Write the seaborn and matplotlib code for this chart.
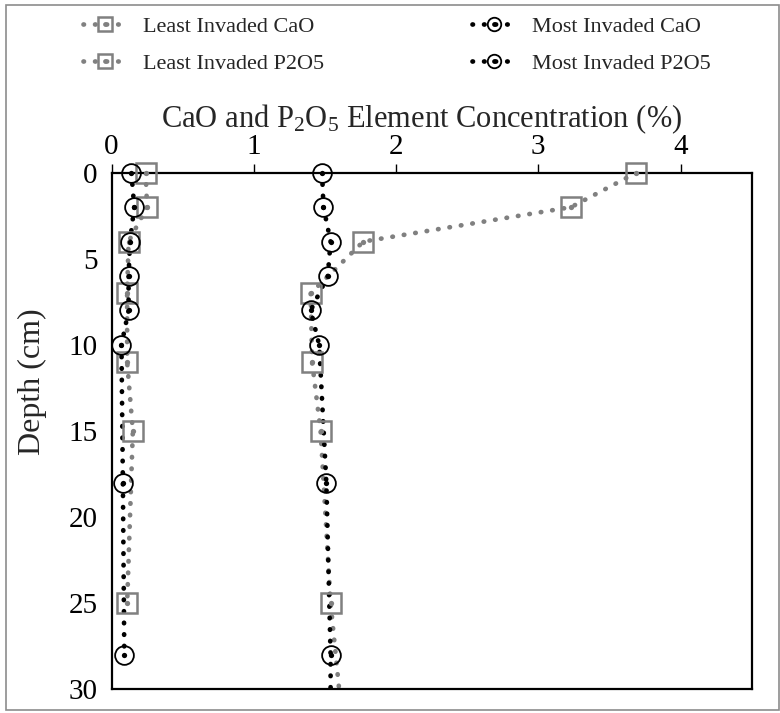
import matplotlib
matplotlib.use("Agg")
import matplotlib.pyplot as plt
import numpy as np
import pandas as pd
import seaborn as sns
from matplotlib.lines import Line2D
from matplotlib.legend_handler import HandlerTuple
from matplotlib.patches import Rectangle

# Depth profiles (cm) and element concentrations (%)
li_cao_depth = [0, 2, 4, 7, 11, 15, 25, 35]
li_cao = [3.69, 3.23, 1.77, 1.40, 1.41, 1.47, 1.54, 1.66]

li_p2o5_depth = [0, 2, 4, 7, 11, 15, 25]
li_p2o5 = [0.24, 0.25, 0.12, 0.11, 0.11, 0.15, 0.11]

mi_cao_depth = [0, 2, 4, 6, 8, 10, 18, 28, 32]
mi_cao = [1.48, 1.49, 1.54, 1.52, 1.40, 1.46, 1.51, 1.54, 1.54]

mi_p2o5_depth = [0, 2, 4, 6, 8, 10, 18, 28]
mi_p2o5 = [0.14, 0.16, 0.13, 0.12, 0.12, 0.07, 0.08, 0.09]

x_ticks = [0, 1, 2, 3, 4]
y_ticks = [0, 5, 10, 15, 20, 25, 30]

GRAY = "#808080"
BLACK = "#000000"

sns.set_style("white")
plt.rcParams["font.family"] = ["Liberation Serif", "DejaVu Serif"]
plt.rcParams["mathtext.fontset"] = "custom"
plt.rcParams["mathtext.rm"] = "Liberation Serif"
plt.rcParams["mathtext.it"] = "Liberation Serif:italic"
plt.rcParams["mathtext.default"] = "regular"

fig = plt.figure(figsize=(7.8, 7.13), dpi=100)
ax = fig.add_axes([111.5 / 780, 1 - 689.3 / 713, (751.7 - 111.5) / 780, (689.3 - 172.7) / 713])

LW = 3.4
DOT_LS = (0, (0.1, 2.35))
YMAX = 30


def style_dotted(line, color):
    line.set_linewidth(LW)
    line.set_linestyle(DOT_LS)
    line.set_dash_capstyle("round")
    line.set_color(color)


series = [
    ("Least Invaded CaO", li_cao, li_cao_depth, GRAY, "s", 14.0, 1.8),
    ("Most Invaded CaO", mi_cao, mi_cao_depth, BLACK, "o", 13.5, 1.3),
    ("Least Invaded P2O5", li_p2o5, li_p2o5_depth, GRAY, "s", 14.0, 1.8),
    ("Most Invaded P2O5", mi_p2o5, mi_p2o5_depth, BLACK, "o", 13.5, 1.3),
]

handles, labels = [], []
for z, (name, vals, depth, color, mk, ms, mew) in enumerate(series):
    df = pd.DataFrame({"conc": vals, "depth": depth})
    # dotted connecting line, clipped to the plotting area
    n0 = len(ax.lines)
    sns.lineplot(data=df, x="conc", y="depth", orient="y", sort=True, estimator=None,
                 color=color, legend=False, ax=ax, zorder=2 + z * 0.1)
    for ln in ax.lines[n0:]:
        style_dotted(ln, color)
    # open markers with a centre dot, allowed to overhang the frame
    shown = df[df["depth"] <= YMAX]
    sns.lineplot(data=shown, x="conc", y="depth", orient="y", sort=True, estimator=None,
                 linestyle="none", marker=mk, markersize=ms, markerfacecolor="none",
                 markeredgecolor=color, markeredgewidth=mew, color=color,
                 legend=False, ax=ax, clip_on=False, zorder=3 + z * 0.1)
    sns.lineplot(data=shown, x="conc", y="depth", orient="y", sort=True, estimator=None,
                 linestyle="none", marker="o", markersize=3.8, markerfacecolor=color,
                 markeredgecolor=color, markeredgewidth=0, color=color,
                 legend=False, ax=ax, clip_on=False, zorder=3.05 + z * 0.1)
    h_line = Line2D([], [], color=color, lw=LW, linestyle=DOT_LS, dash_capstyle="round",
                    marker=mk, markersize=ms * 0.72, markerfacecolor="none",
                    markeredgecolor=color, markeredgewidth=mew)
    h_dot = Line2D([], [], linestyle="none", marker="o", markersize=3.4,
                   markerfacecolor=color, markeredgewidth=0)
    handles.append((h_line, h_dot))
    labels.append(name)

ax.set_xlim(0, 4.5)
ax.set_ylim(YMAX, 0)
ax.set_xticks(x_ticks)
ax.set_yticks(y_ticks)
ax.xaxis.tick_top()
ax.xaxis.set_label_position("top")
ax.tick_params(axis="both", direction="out", width=1.0, colors="black", labelsize=21)
ax.tick_params(axis="x", length=6.3, pad=3)
ax.tick_params(axis="y", length=5.0, pad=5)
for sp in ax.spines.values():
    sp.set_visible(True)
    sp.set_color("black")
    sp.set_linewidth(1.6)

ax.set_xlabel("CaO and P$_2$O$_5$ Element Concentration (%)", fontsize=22, labelpad=5)
ax.xaxis.label.set_x(0.485)
ax.set_ylabel("Depth (cm)", fontsize=23)
ax.yaxis.set_label_coords(-0.100, 0.595)

hmap = {tuple: HandlerTuple(ndivide=1)}
leg_kw = dict(handler_map=hmap, frameon=False, fontsize=16, loc="upper left",
              borderpad=0, borderaxespad=0, handlelength=2.0, handletextpad=0.7,
              labelspacing=0.75, markerscale=1.0)
leg1 = fig.legend([handles[0], handles[2]], [labels[0], labels[2]],
                  bbox_to_anchor=(83 / 780, 1 - 16 / 713), **leg_kw)
leg2 = fig.legend([handles[1], handles[3]], [labels[1], labels[3]],
                  bbox_to_anchor=(472 / 780, 1 - 16 / 713), **leg_kw)

# thin outer frame around the whole figure
fig.patches.append(Rectangle((6 / 780, 1 - 710 / 713), (779 - 6) / 780, (710 - 5) / 713,
                             transform=fig.transFigure, fill=False, ec="#8c8c8c", lw=1.2))

fig.savefig("out.png", dpi=100)
